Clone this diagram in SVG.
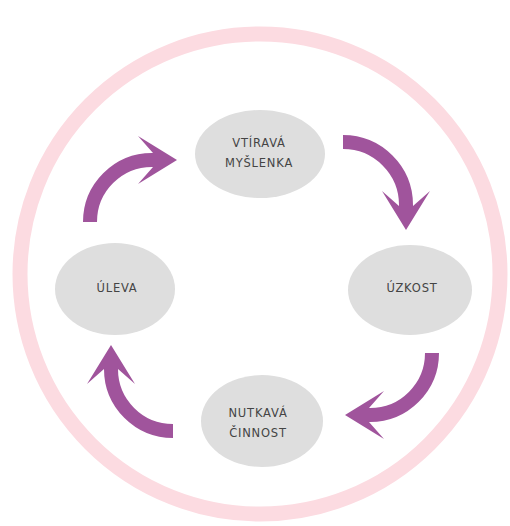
<svg xmlns="http://www.w3.org/2000/svg" xmlns:xlink="http://www.w3.org/1999/xlink" width="510" height="526" viewBox="0 0 510 526">
  <style>
    .ring { fill: none; stroke: #fcdbe1; stroke-width: 15; }
    .node ellipse { fill: #dedede; }
    .node text { font-family: "DejaVu Sans", "Liberation Sans", sans-serif; font-size: 11.5px; fill: #444; text-anchor: middle; letter-spacing: 0.8px; }
    .shaft { fill: none; stroke: #a0549c; stroke-width: 14; stroke-linecap: butt; }
    .head { fill: #a0549c; }
  </style>
  <defs>
    <polygon id="head" class="head" points="0,0 -39,-24 -24,-7 -24,7 -39,24"/>
  </defs>
  <rect width="510" height="526" fill="#ffffff"/>
  <circle class="ring" cx="260" cy="274" r="240"/>

  <g id="connectors">
    <g id="arrow-myslenka-uzkost">
      <path class="shaft" d="M343,142 A63,63 0 0 1 406,205 V208"/>
      <use xlink:href="#head" href="#head" transform="translate(406,230) rotate(90)"/>
    </g>
    <g id="arrow-uzkost-cinnost">
      <path class="shaft" d="M432,353 A62,62 0 0 1 370,415 H367"/>
      <use xlink:href="#head" href="#head" transform="translate(345,415) rotate(180)"/>
    </g>
    <g id="arrow-cinnost-uleva">
      <path class="shaft" d="M173,431 A62,62 0 0 1 111,369 V367"/>
      <use xlink:href="#head" href="#head" transform="translate(111,345) rotate(-90)"/>
    </g>
    <g id="arrow-uleva-myslenka">
      <path class="shaft" d="M90,222 A62,62 0 0 1 152,160 H155"/>
      <use xlink:href="#head" href="#head" transform="translate(177,160) rotate(0)"/>
    </g>
  </g>

  <g id="node-vtirava-myslenka" class="node">
    <ellipse cx="260" cy="154" rx="65" ry="44"/>
    <text x="259" y="147">VTÍRAVÁ</text>
    <text x="259" y="167">MYŠLENKA</text>
  </g>
  <g id="node-uzkost" class="node">
    <ellipse cx="410" cy="290" rx="62" ry="45"/>
    <text x="412" y="292">ÚZKOST</text>
  </g>
  <g id="node-nutkava-cinnost" class="node">
    <ellipse cx="262" cy="421" rx="61" ry="46"/>
    <text x="258" y="417">NUTKAVÁ</text>
    <text x="258" y="437">ČINNOST</text>
  </g>
  <g id="node-uleva" class="node">
    <ellipse cx="115" cy="289" rx="60" ry="46"/>
    <text x="117" y="292">ÚLEVA</text>
  </g>
</svg>
